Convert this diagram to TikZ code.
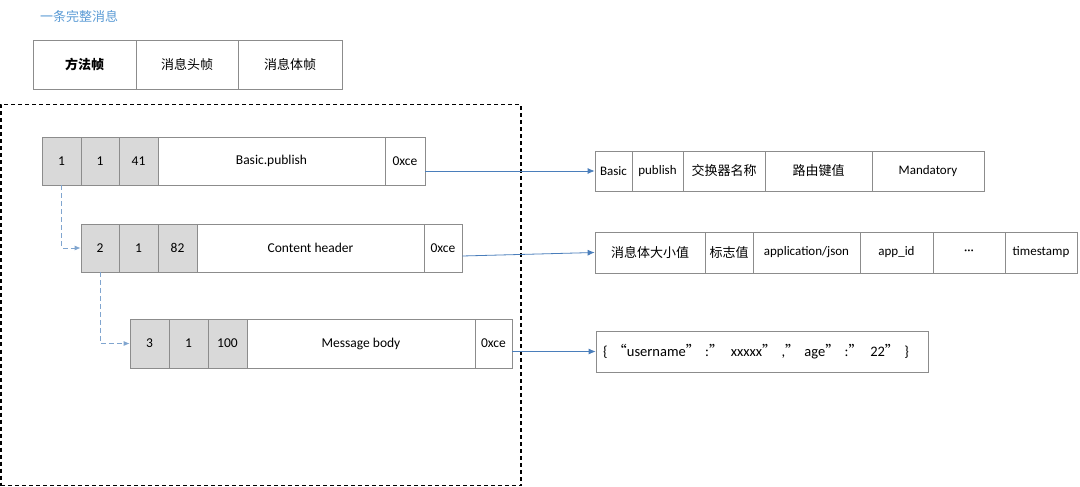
\documentclass[tikz,border=0pt]{standalone}
\usepackage{fontspec}
\setmainfont{Carlito}
\newfontfamily\cjk{Noto Sans CJK SC}
\usetikzlibrary{arrows.meta}
\definecolor{cellgray}{HTML}{D9D9D9}
\definecolor{linegray}{HTML}{8C8C8C}
\definecolor{arrowblue}{HTML}{4A7EBB}
\definecolor{titleblue}{HTML}{5B9BD5}
\newcommand{\cq}[1]{{\cjk #1}}
\tikzset{
  cell/.style={draw=linegray, line width=0.7pt, fill=white, inner sep=0pt, font=\fontsize{13.5}{15}\selectfont, anchor=center},
  gcell/.style={cell, fill=cellgray},
  rcell/.style={cell, font=\fontsize{13}{15}\selectfont},
  ccell/.style={cell, font=\cjk\fontsize{13}{15}\selectfont},
  link/.style={draw=arrowblue, line width=0.8pt, -{Latex[length=7pt,width=6pt]}},
  dlink/.style={draw=arrowblue!70, line width=0.8pt, dash pattern=on 5pt off 3pt, -{Latex[length=6pt,width=5pt]}},
}
\begin{document}
\begin{tikzpicture}[x=1pt,y=-1pt]
\useasboundingbox (0,0) rectangle (1080,487);
% title
\node[anchor=west, text=titleblue, font=\cjk\fontsize{13}{15}\selectfont, inner sep=0pt] (title) at (40,17) {一条完整消息};
% top box
\node[ccell, minimum width=103pt, minimum height=49pt, font=\cjk\bfseries\fontsize{13}{15}\selectfont] (t1) at (84.5,64.5) {方法帧};
\node[ccell, minimum width=102pt, minimum height=49pt] (t2) at (187,64.5) {消息头帧};
\node[ccell, minimum width=104pt, minimum height=49pt] (t3) at (290,64.5) {消息体帧};
% dashed frame
\node[draw=black, line width=1.4pt, dash pattern=on 4pt off 3pt, minimum width=520pt, minimum height=381pt, inner sep=0pt] (frame) at (261,295) {};
% row 1
\node[gcell, minimum width=39pt, minimum height=48pt] (r1a) at (61.5,161) {1};
\node[gcell, minimum width=38pt, minimum height=48pt] (r1b) at (100,161) {1};
\node[gcell, minimum width=39pt, minimum height=48pt] (r1c) at (138.5,161) {41};
\node[cell, minimum width=227pt, minimum height=48pt] (r1d) at (271.5,161) {Basic.publish};
\node[cell, minimum width=40pt, minimum height=48pt] (r1e) at (405,161) {0xce};
% row 2
\node[gcell, minimum width=38pt, minimum height=48pt] (r2a) at (100,248) {2};
\node[gcell, minimum width=39pt, minimum height=48pt] (r2b) at (138.5,248) {1};
\node[gcell, minimum width=39pt, minimum height=48pt] (r2c) at (177.5,248) {82};
\node[cell, minimum width=227pt, minimum height=48pt] (r2d) at (310.5,248) {Content header};
\node[cell, minimum width=38pt, minimum height=48pt] (r2e) at (443,248) {0xce};
% row 3
\node[gcell, minimum width=39pt, minimum height=49pt] (r3a) at (149.5,343.5) {3};
\node[gcell, minimum width=39pt, minimum height=49pt] (r3b) at (188.5,343.5) {1};
\node[gcell, minimum width=39pt, minimum height=49pt] (r3c) at (227.5,343.5) {100};
\node[cell, minimum width=228pt, minimum height=49pt] (r3d) at (361,343.5) {Message body};
\node[cell, minimum width=37pt, minimum height=49pt] (r3e) at (493.5,343.5) {0xce};
% right box 1
\node[rcell, minimum width=37pt, minimum height=40pt] (s1) at (613.5,171) {Basic};
\node[rcell, minimum width=51pt, minimum height=40pt] (s2) at (657.5,171) {publish};
\node[ccell, minimum width=82pt, minimum height=40pt] (s3) at (724,171) {交换器名称};
\node[ccell, minimum width=107pt, minimum height=40pt] (s4) at (818.5,171) {路由键值};
\node[rcell, minimum width=112pt, minimum height=40pt] (s5) at (928,171) {Mandatory};
% right box 2
\node[ccell, minimum width=110pt, minimum height=41pt] (u1) at (650,252.5) {消息体大小值};
\node[ccell, minimum width=48pt, minimum height=41pt] (u2) at (729,252.5) {标志值};
\node[rcell, minimum width=107pt, minimum height=41pt] (u3) at (806.5,252.5) {application/json};
\node[rcell, minimum width=73pt, minimum height=41pt] (u4) at (896.5,252.5) {app\_id};
\node[rcell, minimum width=72pt, minimum height=41pt] (u5) at (969,252.5) {···};
\node[rcell, minimum width=72pt, minimum height=41pt] (u6) at (1041,252.5) {timestamp};
% right box 3
\node[cell, minimum width=332pt, minimum height=41pt, text width=318pt, align=left, font=\fontsize{14.5}{16}\selectfont] (v1) at (762,351.5) {\{ \cq{“}username\cq{”} :\cq{”} xxxxx\cq{”} ,\cq{”} age\cq{”} :\cq{”} 22\cq{”} \}};
% connectors
\draw[dlink] (r1a.south) |- (r2a.west);
\draw[dlink] (r2a.south) |- (r3a.west);
\draw[link] (r1e.east |- s1.west) -- (s1.west);
\draw[link] ([yshift=-8pt]r2e.east) -- (u1.west);
\draw[link] (r3e.east |- v1.west) -- (v1.west);
\end{tikzpicture}
\end{document}
